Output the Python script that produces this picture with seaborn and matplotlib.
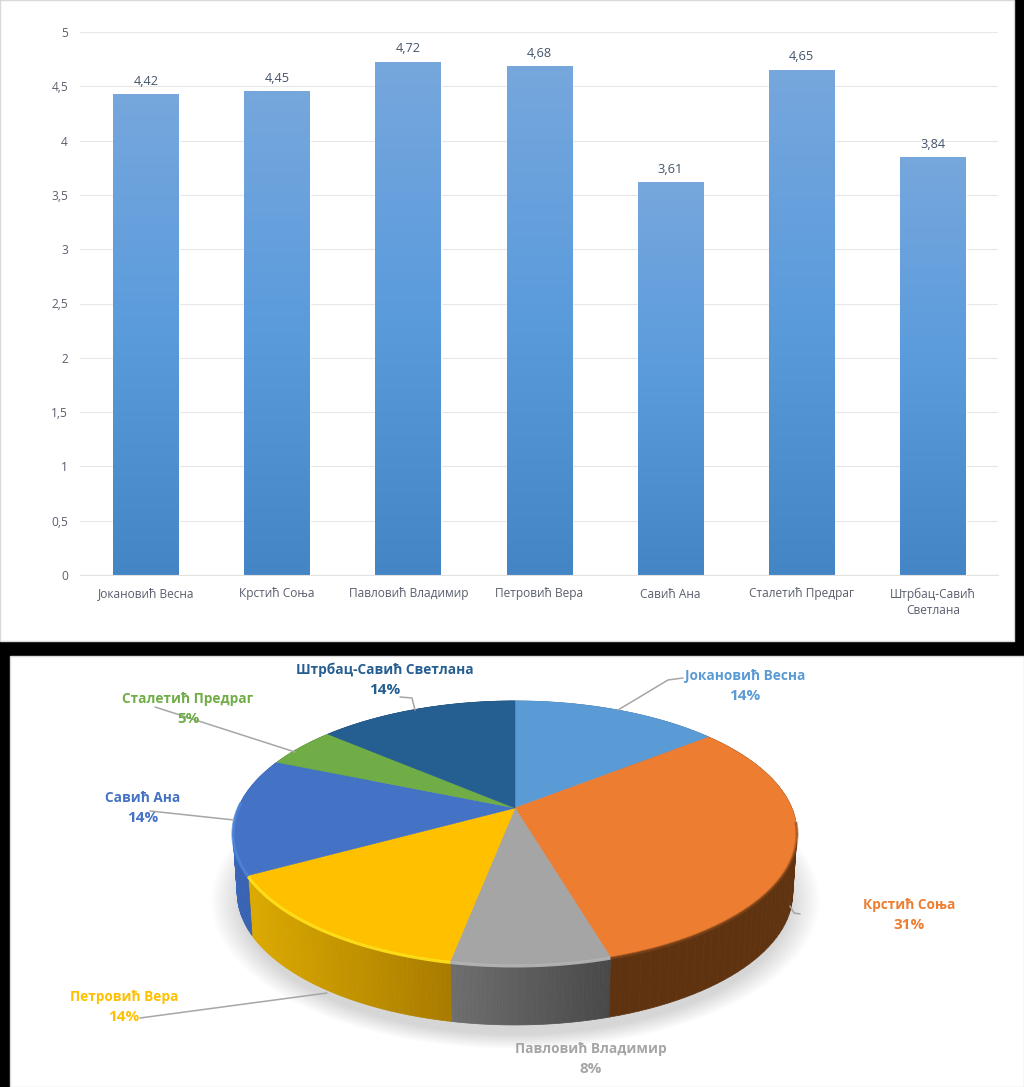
# grades per teacher: bar chart on top, 3d looking pie below
import numpy as np
import pandas as pd
import matplotlib
matplotlib.use("Agg")
import matplotlib.pyplot as plt
import seaborn as sns
from matplotlib.colors import LinearSegmentedColormap, to_rgb
from matplotlib.patches import Rectangle

names = ["Јокановић Весна", "Крстић Соња", "Павловић Владимир", "Петровић Вера",
         "Савић Ана", "Сталетић Предраг", "Штрбац-Савић Светлана"]
bar_names = names[:6] + ["Штрбац-Савић\nСветлана"]
grades = [4.42, 4.45, 4.72, 4.68, 3.61, 4.65, 3.84]
shares = [14.3, 31.15, 7.6, 13.95, 14.3, 5.0, 13.7]
y_ticks = [0, 0.5, 1, 1.5, 2, 2.5, 3, 3.5, 4, 4.5, 5]
pie_colors = ["#5B9BD5", "#ED7D31", "#A5A5A5", "#FFC000", "#4472C4", "#70AD47", "#255E91"]
wall_left = ["#4A7FB0", "#5F3310", "#6E6E6E", "#DCAA00", "#3A66B8", "#5C8F3A", "#1E4C76"]
wall_right = ["#3A6690", "#5F3310", "#484848", "#A87B00", "#33589F", "#4E7A30", "#1A4060"]
rim_colors = ["#6AA6DC", "#8A4A1C", "#B8B8B8", "#FFE01A", "#4F86DC", "#7CBB50", "#2C6AA0"]

sns.set_theme(style="whitegrid")
plt.rcParams["font.family"] = ["Open Sans", "DejaVu Sans"]

fig = plt.figure(figsize=(10.24, 10.87), dpi=100, facecolor="black")

# page layer in pixel coords, holds the two white panels and the pie
bg = fig.add_axes([0, 0, 1, 1])
bg.set_xlim(0, 1024)
bg.set_ylim(1087, 0)
bg.axis("off")
bg.add_patch(Rectangle((0, 0), 1014, 641, fc="white", ec="#D9D9D9", lw=1))
bg.add_patch(Rectangle((10, 656), 1014, 431, fc="white", ec="#D9D9D9", lw=1))

# bar chart
ax = fig.add_axes([80.4 / 1024, 1 - 575 / 1087, 918 / 1024, 543 / 1087])
ax.patch.set_alpha(0)
df = pd.DataFrame({"name": bar_names, "grade": grades})
sns.barplot(data=df, x="name", y="grade", width=0.5, color="#5B9BD5", ax=ax)

bar_cmap = LinearSegmentedColormap.from_list("bar", ["#76A7DD", "#5A9BDC", "#4485C6"])
grad = np.linspace(0, 1, 256).reshape(-1, 1)
for p in ax.patches:
    x0, w, h = p.get_x(), p.get_width(), p.get_height()
    ax.imshow(grad, extent=[x0, x0 + w, 0, h], aspect="auto", cmap=bar_cmap, zorder=2)
    p.set_facecolor("none")

ax.set_xlim(-0.5, 6.5)
ax.set_ylim(0, 5)
ax.set_yticks(y_ticks)
ax.set_yticklabels([str(t).replace(".", ",") for t in y_ticks])
ax.set_xlabel("")
ax.set_ylabel("")
ax.set_axisbelow(True)
ax.xaxis.grid(False)
ax.yaxis.grid(True, color="#E7E7E7", lw=0.8)
ax.tick_params(axis="both", length=0, labelcolor="#595E6C", labelsize=8.6)
ax.tick_params(axis="y", pad=9)
ax.tick_params(axis="x", pad=9)
for t in ax.get_xticklabels():
    t.set_linespacing(1.35)
for s in ["left", "right", "top"]:
    ax.spines[s].set_visible(False)
ax.spines["bottom"].set_color("#E2E2E2")
ax.spines["bottom"].set_linewidth(0.8)
ax.bar_label(ax.containers[0], labels=[f"{v:.2f}".replace(".", ",") for v in grades],
             padding=5, fontsize=9.2, color="#44546A", zorder=3)

# pie, a circle pushed through a perspective map so the shares set the angles
cx, cy = 515, 808
a, b, k = 276.9, 127.3, 0.189
depth = 60


def project(theta):
    X, Y = np.sin(theta), np.cos(theta)
    d = 1 + k * Y
    return cx + a * X / d, cy - b * Y / d


# soft shadow under the pie
gx, gy = np.meshgrid(np.arange(200, 830), np.arange(780, 1060))
dist = np.sqrt(((gx - 515) / 285) ** 2 + ((gy - 900) / 139) ** 2)
shadow = np.zeros(gx.shape + (4,))
shadow[..., :3] = 0.5
shadow[..., 3] = np.clip((1.07 - dist) / 0.11, 0, 1) * 0.32
bg.imshow(shadow, extent=[200, 830, 1060, 780], aspect="auto", zorder=1)
bg.set_xlim(0, 1024)
bg.set_ylim(1087, 0)

edges = 2 * np.pi * np.cumsum([0] + shares) / sum(shares)

# side walls
for i in range(len(shares)):
    th = np.linspace(edges[i], edges[i + 1], 60)
    xs, ys = project(th)
    lo, hi = xs.min(), xs.max()
    c0, c1 = np.array(to_rgb(wall_left[i])), np.array(to_rgb(wall_right[i]))
    for j in range(len(th) - 1):
        t = ((xs[j] + xs[j + 1]) / 2 - lo) / (hi - lo)
        col = c0 + (c1 - c0) * t
        qx = [xs[j], xs[j + 1], cx + (xs[j + 1] - cx) * 0.985, cx + (xs[j] - cx) * 0.985]
        qy = [ys[j], ys[j + 1], ys[j + 1] + depth, ys[j] + depth]
        bg.fill(qx, qy, fc=col, ec=col, lw=0.5, zorder=2)

# top surface
for i in range(len(shares)):
    th = np.linspace(edges[i], edges[i + 1], 120)
    xs, ys = project(th)
    bg.fill(np.r_[cx, xs], np.r_[cy, ys], fc=pie_colors[i], ec=pie_colors[i], lw=0.4, zorder=3)

# bright bevel along the front rim
rim_alpha = [0, 0.55, 0.9, 0.95, 0.8]
for i in range(1, 5):
    th = np.linspace(edges[i], edges[i + 1], 120)
    th = th[np.cos(th) < -0.1] if i < 4 else th[np.cos(th) < 0.05]
    xs, ys = project(th)
    bg.plot(xs, ys + 1, color=rim_colors[i], lw=2.2, alpha=rim_alpha[i], zorder=4, solid_capstyle="butt")

# leader lines
leaders = [([618, 668, 683], [710, 680, 678]),
           ([790, 794, 800], [906, 913, 914]),
           ([327, 140], [993, 1018]),
           ([234, 150], [820, 811]),
           ([295, 155], [752, 707]),
           ([415, 412, 400], [710, 698, 697])]
for lx, ly in leaders:
    bg.plot(lx, ly, color="#A6A6A6", lw=1.1, zorder=4)

label_pos = [(745, 686), (909, 915), (591, 1059), (124, 1007), (143, 808), (188, 709), (385, 680)]
for n, v, (lx, ly), c in zip(names, shares, label_pos, pie_colors):
    bg.text(lx, ly - 10, n, ha="center", va="center", color=c, fontsize=9.8,
            fontweight="bold", zorder=5)
    bg.text(lx, ly + 10, f"{round(v)}%", ha="center", va="center", color=c, fontsize=11,
            fontweight="bold", zorder=5)

fig.savefig("out.png", dpi=100, facecolor="black")
